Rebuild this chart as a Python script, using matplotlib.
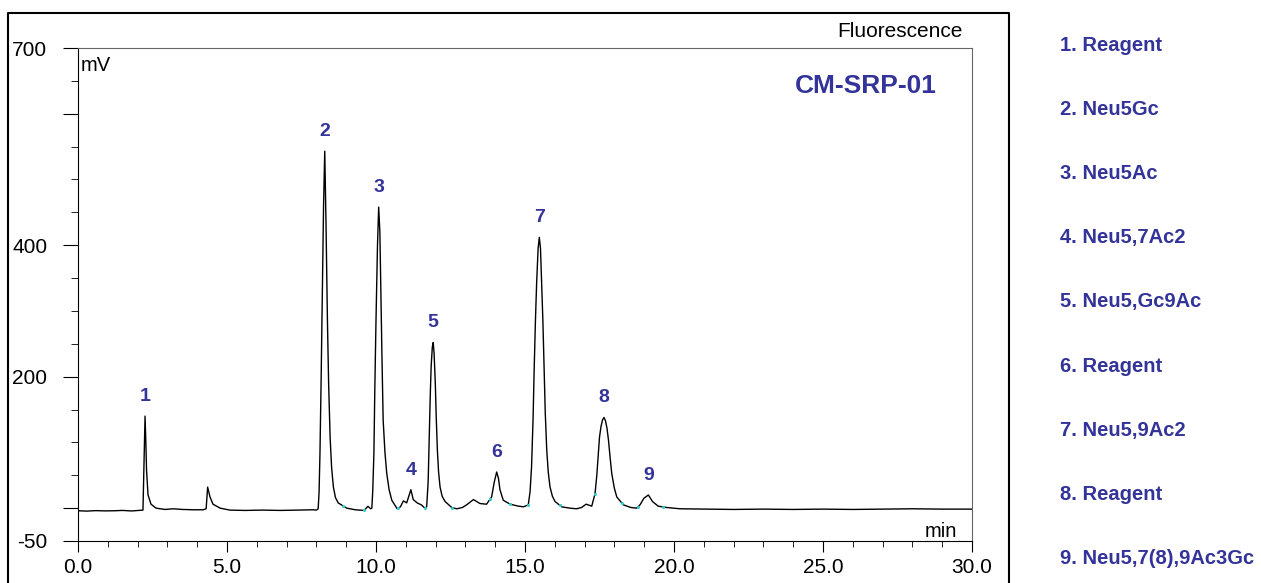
import numpy as np
import matplotlib
matplotlib.use("Agg")
import matplotlib.pyplot as plt
from matplotlib.lines import Line2D

plt.rcParams['font.family'] = ['Liberation Sans', 'DejaVu Sans']

# chromatogram trace (min, mV)
time_min = [0.0, 0.3, 0.6, 0.9, 1.2, 1.5, 1.8, 2.05, 2.18, 2.22, 2.25, 2.28, 2.30, 2.35, 2.45, 2.62, 2.92,
            3.2, 3.5, 3.9, 4.2, 4.30, 4.35, 4.43, 4.53, 4.77, 5.1, 5.6, 6.2, 6.8, 7.4, 7.9,
            8.00, 8.06, 8.09, 8.12, 8.16, 8.20, 8.24, 8.28, 8.32, 8.37, 8.41, 8.46, 8.51, 8.57, 8.64, 8.73,
            9.02, 9.3, 9.6, 9.73, 9.82,
            9.86, 9.89, 9.93, 9.96, 10.00, 10.05, 10.09, 10.13, 10.16, 10.20, 10.24, 10.30, 10.36, 10.44, 10.53,
            10.71, 10.82, 10.92, 11.03, 11.17, 11.25, 11.38, 11.52, 11.64,
            11.70, 11.75, 11.79, 11.82, 11.85, 11.89, 11.92, 11.95, 11.99, 12.02, 12.06, 12.10, 12.15, 12.22,
            12.32, 12.54, 12.71, 12.9, 13.04, 13.27, 13.49, 13.71,
            13.88, 13.97, 14.05, 14.11, 14.16, 14.27, 14.50, 14.78, 14.95,
            15.11, 15.17, 15.22, 15.27, 15.31, 15.35, 15.39, 15.44, 15.48, 15.52, 15.56, 15.60, 15.64, 15.68,
            15.73, 15.78, 15.84, 15.92, 16.01, 16.23, 16.5, 16.73, 16.90, 17.05, 17.24,
            17.35, 17.41, 17.46, 17.50, 17.55, 17.60, 17.65, 17.70, 17.75, 17.80, 17.85, 17.91, 18.00, 18.08,
            18.30, 18.55, 18.75, 18.86, 18.99, 19.14, 19.28, 19.47, 19.75, 20.2,
            21.0, 22.0, 23.0, 24.0, 25.0, 26.0, 27.0, 28.0, 29.0, 30.0]
signal_mv = [-4, -4.5, -3.8, -4.2, -4.0, -3.5, -4.3, -3.5, -3, 80, 140, 95, 58, 20, 6, 0, -2,
             -1, -2, -2.5, -2.5, -1, 32, 17, 6, 0, -3, -3.5, -3, -3.5, -3, -2.5,
             -3, -1, 25, 84, 200, 336, 460, 543, 440, 286, 190, 108, 62, 32, 16, 8,
             0, -2.5, -3.5, 2.8, -1,
             0, 25, 84, 180, 286, 400, 458, 420, 337, 230, 134, 85, 53, 28, 12,
             -1, 2, 11, 8, 28, 13, 8, 5, 0,
             2, 40, 114, 170, 215, 245, 252, 235, 190, 140, 88, 55, 32, 18,
             10, 1, -1, 1, 5, 13, 7, 6,
             17, 40, 55, 45, 28, 12, 6, 3, 2,
             5, 25, 63, 135, 215, 285, 342, 395, 412, 395, 342, 285, 215, 145,
             88, 55, 32, 18, 10, 2, 0, -1, 1, 6, 3,
             22, 50, 83, 108, 124, 134, 138, 133, 122, 104, 80, 53, 30, 17,
             5, 1, 0, 5, 15, 20, 10, 3, 1, -1,
             -1.5, -2, -1.5, -2, -1.5, -2, -1.5, -1, -1.5, -1.5]

# peak labels at the apexes
peak_numbers = ['1', '2', '3', '4', '5', '6', '7', '8', '9']
peak_times = [2.25, 8.28, 10.09, 11.17, 11.92, 14.05, 15.48, 17.65, 19.14]
peak_heights = [140, 543, 458, 28, 252, 55, 412, 138, 20]

# small integration marks on the baseline
mark_times = [8.89, 9.60, 10.74, 11.64, 12.55, 13.83, 14.50, 15.10, 16.17, 17.35, 18.26, 18.79, 19.63]

peak_names = ['1. Reagent', '2. Neu5Gc', '3. Neu5Ac', '4. Neu5,7Ac2', '5. Neu5,Gc9Ac',
              '6. Reagent', '7. Neu5,9Ac2', '8. Reagent', '9. Neu5,7(8),9Ac3Gc']

blue = '#333399'
W, H = 1261, 583

fig = plt.figure(figsize=(W / 100, H / 100), dpi=100)
ax = fig.add_axes([78 / W, 42 / H, 894 / W, 493 / H])

ax.plot(time_min, signal_mv, color='black', lw=1.0)
ax.plot(mark_times, np.interp(mark_times, time_min, signal_mv), ls='none',
        marker='o', ms=1.2, color='#33cccc')

for num, t, h in zip(peak_numbers, peak_times, peak_heights):
    ax.annotate(num, (t, h), xytext=(0, 8), textcoords='offset points',
                ha='center', va='bottom', fontsize=14, fontweight='bold', color=blue)

ax.set_xlim(0, 30)
ax.set_ylim(-50, 700)
ax.set_xticks(np.arange(0, 31, 5))
ax.set_xticklabels([f"{v:.1f}" for v in np.arange(0, 31, 5)])
ax.set_xticks(np.arange(0, 31, 1), minor=True)
ax.set_yticks([-50, 0, 200, 400, 600, 700])
ax.set_yticklabels(['-50', '', '200', '400', '', '700'])
ax.set_yticks(np.arange(-50, 701, 50), minor=True)
ax.tick_params(axis='x', which='major', length=8, pad=4, labelsize=15)
ax.tick_params(axis='x', which='minor', length=4)
ax.tick_params(axis='y', which='major', length=11, pad=11, labelsize=15)
ax.tick_params(axis='y', which='minor', length=5)

for s in ['top', 'right']:
    ax.spines[s].set_color('#666666')
    ax.spines[s].set_linewidth(0.8)

ax.text(0.003, 0.984, 'mV', transform=ax.transAxes, ha='left', va='top', fontsize=14.5)
ax.text(0.983, 0.008, 'min', transform=ax.transAxes, ha='right', va='baseline', fontsize=14.5)
ax.text(0.881, 0.9087, 'CM-SRP-01', transform=ax.transAxes, ha='center', va='baseline',
        fontsize=19, fontweight='bold', color=blue)
fig.text(963 / W, 1 - 37 / H, 'Fluorescence', ha='right', va='baseline', fontsize=15)

# outer frame
fig.add_artist(Line2D([8 / W, 8 / W, 1009 / W, 1009 / W], [0, 1 - 13 / H, 1 - 13 / H, 0],
                      transform=fig.transFigure, color='black', lw=1.5))

for i, name in enumerate(peak_names):
    fig.text(1060 / W, 1 - (51 + 64.1 * i) / H, name, ha='left', va='baseline',
             fontsize=14.5, fontweight='bold', color=blue)

fig.savefig('out.png', dpi=100)
